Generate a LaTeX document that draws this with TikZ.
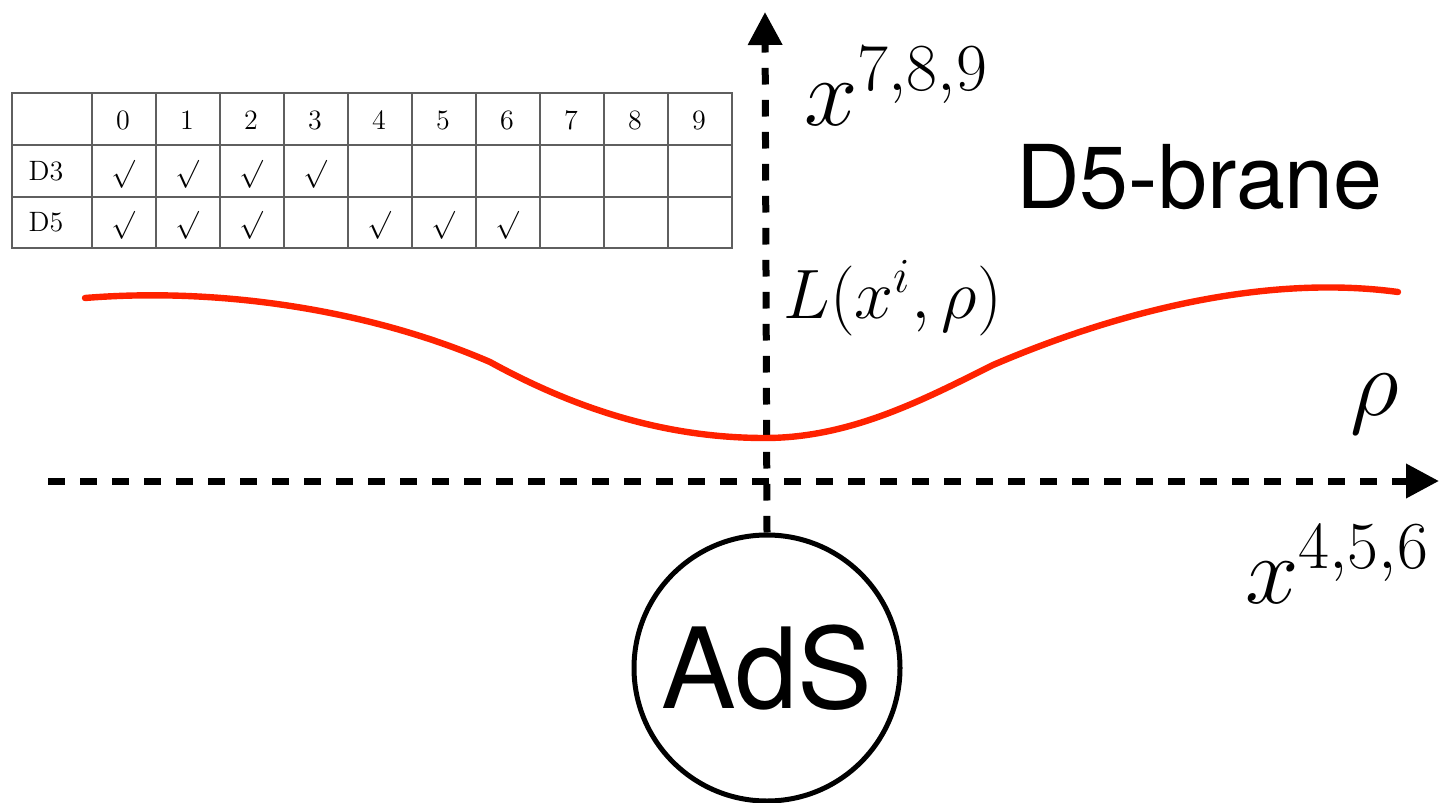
\RequirePackage{fix-cm}
\documentclass[tikz,border=0pt]{standalone}
\usepackage{fontspec}
\newfontfamily\heros{TeX Gyre Heros}
\usetikzlibrary{arrows.meta}
\definecolor{braneRed}{RGB}{255,34,0}
\definecolor{tabGray}{RGB}{95,95,95}
\tikzset{
  axisline/.style={line width=3.5pt, dash pattern=on 8.3pt off 7.7pt,
    -{Triangle[length=16.5pt,width=16.5pt]}},
  brane/.style={line width=3.2pt, braneRed, line cap=round},
  tabline/.style={line width=1pt, tabGray},
  cell/.style={inner sep=0pt, font=\fontsize{14}{16}\selectfont},
  bigmath/.style={inner sep=0pt, font=\fontsize{48}{52}\selectfont},
  midmath/.style={inner sep=0pt, font=\fontsize{35}{38}\selectfont},
  sanslabel/.style={inner sep=0pt, font=\heros\fontsize{44}{48}\selectfont},
  adsnode/.style={circle, draw, line width=2.5pt, minimum size=133pt, inner sep=0pt,
    font=\heros\fontsize{56}{60}\selectfont}
}
\begin{document}
\begin{tikzpicture}[x=0.5pt,y=-0.5pt]
\useasboundingbox (0,0) rectangle (1441,803);
% table
\draw[tabline] (12,93) rectangle (732,248);
\draw[tabline] (12,145) -- (732,145);
\draw[tabline] (12,197) -- (732,197);
\foreach \k in {0,...,9} \draw[tabline] ({92+64*\k},93) -- ({92+64*\k},248);
\foreach \i in {0,...,9} \node[cell] (h\i) at ({123+64*\i},120) {\i};
\node[cell] (rD3) at (46,171) {D3};
\node[cell] (rD5) at (46,222) {D5};
\foreach \i in {0,1,2,3} \node[cell] (ca\i) at ({123+64*\i},174) {$\surd$};
\foreach \i in {0,1,2,4,5,6} \node[cell] (cb\i) at ({123+64*\i},225) {$\surd$};
% AdS circle
\node[adsnode] (ads) at (767,668) {AdS};
% axes
\coordinate (ytop) at (765,12);
\coordinate (xleft) at (48,481);
\coordinate (xright) at (1439,481);
\draw[axisline] (ads.north) -- (ytop);
\draw[axisline] (xleft) -- (xright);
% brane curve
\draw[brane] (85,298) .. controls (220,287) and (370,310) .. (490,362)
  .. controls (590,417) and (680,438) .. (765,438)
  .. controls (850,438) and (923,400) .. (993,365)
  .. controls (1093,322) and (1250,272) .. (1398,292);
% labels
\node[bigmath, anchor=base west] (lab789) at (804,125) {$x^{7,8,9}$};
\node[bigmath, anchor=base west] (lab456) at (1245,603) {$x^{4,5,6}$};
\node[bigmath, anchor=base] (labrho) at (1375,415) {$\rho$};
\node[midmath, anchor=base west] (labL) at (783,318) {$L(x^i,\rho)$};
\node[sanslabel, anchor=base west] (labD5) at (1016,208) {D5-brane};
\end{tikzpicture}
\end{document}
